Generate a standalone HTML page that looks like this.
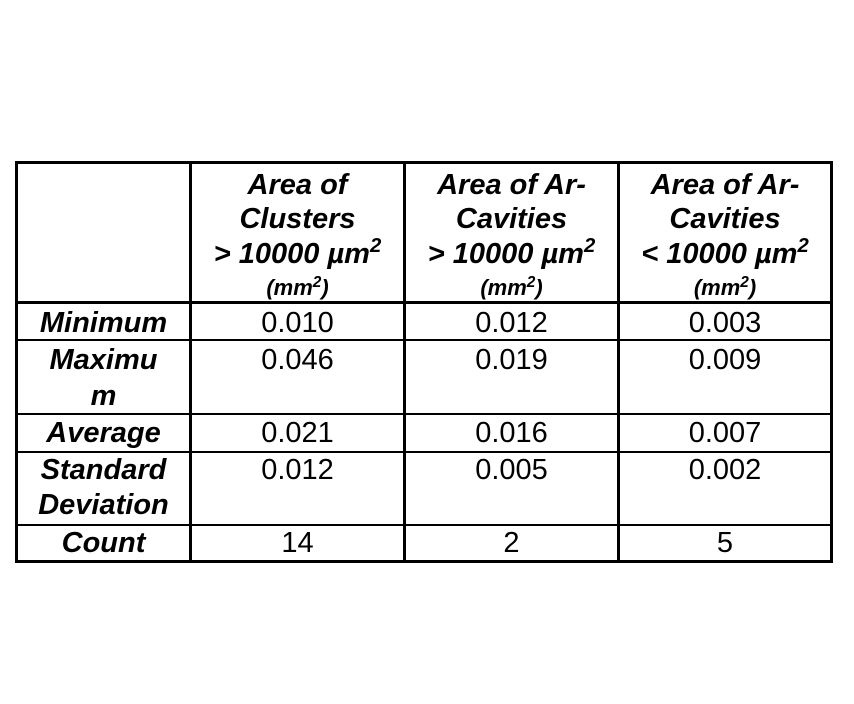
<!DOCTYPE html>
<html><head><meta charset="utf-8"><style>
body{margin:0;background:#fff;width:854px;height:704px;position:relative;overflow:hidden;font-family:"Liberation Sans",Arial,sans-serif;color:#000}
.h{position:absolute;background:#000}
.t{position:absolute;height:30px;line-height:30px;text-align:center;white-space:nowrap}
.b{font-weight:bold;font-style:italic;font-size:29px}
.v{font-size:29px}
.s{font-weight:bold;font-style:italic;font-size:22px}
sup{font-size:70%;vertical-align:0;position:relative;top:-0.55em}
</style></head><body>
<div class="h" style="left:15px;top:161px;width:818px;height:3px"></div>
<div class="h" style="left:15px;top:301px;width:818px;height:3px"></div>
<div class="h" style="left:15px;top:339px;width:818px;height:2px"></div>
<div class="h" style="left:15px;top:413px;width:818px;height:2px"></div>
<div class="h" style="left:15px;top:451px;width:818px;height:2px"></div>
<div class="h" style="left:15px;top:524px;width:818px;height:2px"></div>
<div class="h" style="left:15px;top:560px;width:818px;height:3px"></div>
<div class="h" style="left:15px;top:161px;width:3px;height:402px"></div>
<div class="h" style="left:189px;top:161px;width:3px;height:402px"></div>
<div class="h" style="left:403px;top:161px;width:3px;height:402px"></div>
<div class="h" style="left:617px;top:161px;width:3px;height:402px"></div>
<div class="h" style="left:830px;top:161px;width:3px;height:402px"></div>

<div class="t b" style="left:192px;width:211px;top:170px">Area of</div>
<div class="t b" style="left:192px;width:211px;top:204px">Clusters</div>
<div class="t b" style="left:192px;width:211px;top:239px">&gt; 10000 µm<sup>2</sup></div>
<div class="t s" style="left:192px;width:211px;top:273px">(mm<sup>2</sup>)</div>

<div class="t b" style="left:406px;width:211px;top:170px">Area of Ar-</div>
<div class="t b" style="left:406px;width:211px;top:204px">Cavities</div>
<div class="t b" style="left:406px;width:211px;top:239px">&gt; 10000 µm<sup>2</sup></div>
<div class="t s" style="left:406px;width:211px;top:273px">(mm<sup>2</sup>)</div>

<div class="t b" style="left:620px;width:210px;top:170px">Area of Ar-</div>
<div class="t b" style="left:620px;width:210px;top:204px">Cavities</div>
<div class="t b" style="left:620px;width:210px;top:239px">&lt; 10000 µm<sup>2</sup></div>
<div class="t s" style="left:620px;width:210px;top:273px">(mm<sup>2</sup>)</div>

<div class="t b" style="left:18px;width:171px;top:308px">Minimum</div>
<div class="t b" style="left:18px;width:171px;top:345px">Maximu</div>
<div class="t b" style="left:18px;width:171px;top:381px">m</div>
<div class="t b" style="left:18px;width:171px;top:418px">Average</div>
<div class="t b" style="left:18px;width:171px;top:455px">Standard</div>
<div class="t b" style="left:18px;width:171px;top:490px">Deviation</div>
<div class="t b" style="left:18px;width:171px;top:528px">Count</div>

<div class="t v" style="left:192px;width:211px;top:308px">0.010</div>
<div class="t v" style="left:406px;width:211px;top:308px">0.012</div>
<div class="t v" style="left:620px;width:210px;top:308px">0.003</div>
<div class="t v" style="left:192px;width:211px;top:345px">0.046</div>
<div class="t v" style="left:406px;width:211px;top:345px">0.019</div>
<div class="t v" style="left:620px;width:210px;top:345px">0.009</div>
<div class="t v" style="left:192px;width:211px;top:418px">0.021</div>
<div class="t v" style="left:406px;width:211px;top:418px">0.016</div>
<div class="t v" style="left:620px;width:210px;top:418px">0.007</div>
<div class="t v" style="left:192px;width:211px;top:455px">0.012</div>
<div class="t v" style="left:406px;width:211px;top:455px">0.005</div>
<div class="t v" style="left:620px;width:210px;top:455px">0.002</div>
<div class="t v" style="left:192px;width:211px;top:528px">14</div>
<div class="t v" style="left:406px;width:211px;top:528px">2</div>
<div class="t v" style="left:620px;width:210px;top:528px">5</div>
</body></html>
